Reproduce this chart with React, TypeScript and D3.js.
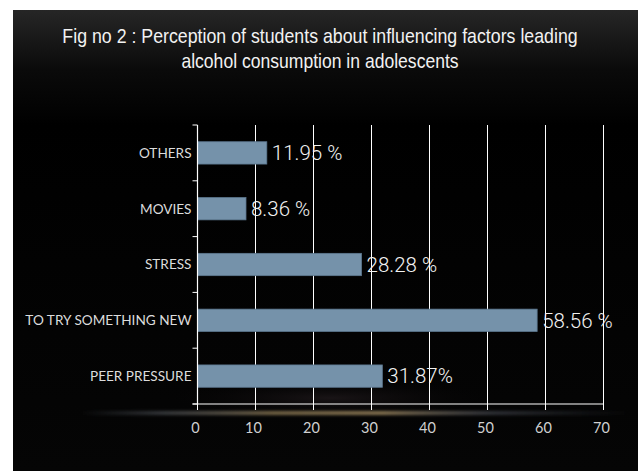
import React, { useLayoutEffect, useRef, useState } from 'react';
import * as d3 from 'd3';

const categories = ['OTHERS', 'MOVIES', 'STRESS', 'TO TRY SOMETHING NEW', 'PEER PRESSURE'];
const values = [11.95, 8.36, 28.28, 58.56, 31.87];
const valueLabels = ['11.95 %', '8.36 %', '28.28 %', '58.56 %', '31.87%'];
const xTicks = [0, 10, 20, 30, 40, 50, 60, 70];
const titleLines = [
  'Fig no 2 : Perception of students about influencing factors leading',
  'alcohol consumption in adolescents',
];

function NarrowText({ text, cx, y, target, ...rest }: any) {
  const ref = useRef<SVGTextElement>(null);
  const [k, setK] = useState(0.82);
  useLayoutEffect(() => {
    if (ref.current) {
      const len = ref.current.getComputedTextLength();
      if (len > 0) setK(target / len);
    }
  }, [text, target]);
  return (
    <g transform={`translate(${cx},${y}) scale(${k},1)`}>
      <text ref={ref} x={0} y={0} textAnchor="middle" {...rest}>
        {text}
      </text>
    </g>
  );
}

export default function App() {
  const W = 638;
  const H = 471;
  const x = d3.scaleLinear().domain([0, 70]).range([197.5, 603.5]);
  const y = d3.scaleBand<string>().domain(categories).range([125, 404]);
  const barH = y.bandwidth() * 0.4;
  const [y0, y1] = y.range();
  const bandEdges = [...categories.map((c) => y(c) as number), y1];

  return (
    <svg
      width={W}
      height={H}
      style={{ position: 'absolute', left: 0, top: 0, display: 'block' }}
    >
      <defs>
        <linearGradient id="bgTop" x1="0" y1="0" x2="0" y2="1">
          <stop offset="0" stopColor="#262626" />
          <stop offset="0.13" stopColor="#0a0a0a" />
          <stop offset="0.25" stopColor="#000" />
          <stop offset="1" stopColor="#050505" />
        </linearGradient>
        <linearGradient id="glow" x1="0" y1="0" x2="1" y2="0">
          <stop offset="0" stopColor="#6a7480" stopOpacity="0" />
          <stop offset="0.15" stopColor="#7a8088" stopOpacity="0.4" />
          <stop offset="0.35" stopColor="#a08a60" stopOpacity="0.7" />
          <stop offset="0.55" stopColor="#b0976a" stopOpacity="0.75" />
          <stop offset="0.75" stopColor="#6d7280" stopOpacity="0.4" />
          <stop offset="1" stopColor="#505866" stopOpacity="0" />
        </linearGradient>
        <radialGradient id="haze" cx="0.5" cy="0.5" r="0.5">
          <stop offset="0" stopColor="#2e2428" stopOpacity="0.5" />
          <stop offset="1" stopColor="#000" stopOpacity="0" />
        </radialGradient>
        <filter id="blur" x="-20%" y="-200%" width="140%" height="500%">
          <feGaussianBlur stdDeviation="1.8" />
        </filter>
      </defs>
      <rect x={0} y={0} width={W} height={H} fill="#fff" />
      <rect x={13} y={10} width={W - 13} height={H - 10} fill="url(#bgTop)" />
      <ellipse cx={330} cy={398} rx={180} ry={20} fill="url(#haze)" />
      <rect x={80} y={411} width={550} height={4} fill="url(#glow)" filter="url(#blur)" />

      {titleLines.map((t, i) => (
        <NarrowText
          key={i}
          text={t}
          cx={320}
          y={43 + i * 24.5}
          target={i === 0 ? 515 : 277}
          fill="#f2f2f2"
          fontFamily="'Liberation Sans Narrow', 'Liberation Sans', Arial, sans-serif"
          fontSize={20}
        />
      ))}

      {xTicks.slice(1).map((t) => (
        <line key={'g' + t} x1={x(t)} x2={x(t)} y1={y0} y2={y1} stroke="#fff" strokeWidth={1} />
      ))}

      {categories.map((c, i) => {
        const yc = (y(c) as number) + y.bandwidth() / 2;
        return (
          <g key={c}>
            <rect
              x={x(0)}
              y={yc - barH / 2}
              width={x(values[i]) - x(0)}
              height={barH}
              fill="#7592aa"
              stroke="#5d7890"
              strokeWidth={0.8}
            />
            <text
              x={x(0) - 6}
              y={yc}
              dy="0.36em"
              textAnchor="end"
              fill="#dcdcdc"
              fontFamily="Lato, 'Open Sans', sans-serif"
              fontSize={13.6}
            >
              {c}
            </text>
            <text
              x={x(values[i]) + 5}
              y={yc}
              dy="0.36em"
              fill="#f2f2f2"
              fontFamily="Roboto, sans-serif"
              fontWeight={300}
              fontSize={20.5}
            >
              {valueLabels[i]}
            </text>
          </g>
        );
      })}

      <line x1={x(0)} x2={x(0)} y1={y0} y2={y1} stroke="#fff" strokeWidth={1.2} />
      {bandEdges.map((v, i) => (
        <line key={'yt' + i} x1={x(0) - 5} x2={x(0)} y1={v} y2={v} stroke="#fff" strokeWidth={1} />
      ))}
      <line x1={x(0) - 5} x2={x(70)} y1={y1} y2={y1} stroke="#fff" strokeWidth={1.2} />
      {xTicks.map((t) => (
        <g key={'xt' + t}>
          <line x1={x(t)} x2={x(t)} y1={y1} y2={y1 + 6} stroke="#fff" strokeWidth={1} />
          <text
            x={x(t) - 2}
            y={433}
            textAnchor="middle"
            fill="#d0d0d0"
            fontFamily="Lato, 'Open Sans', sans-serif"
            fontSize={14.5}
          >
            {t}
          </text>
        </g>
      ))}
    </svg>
  );
}
